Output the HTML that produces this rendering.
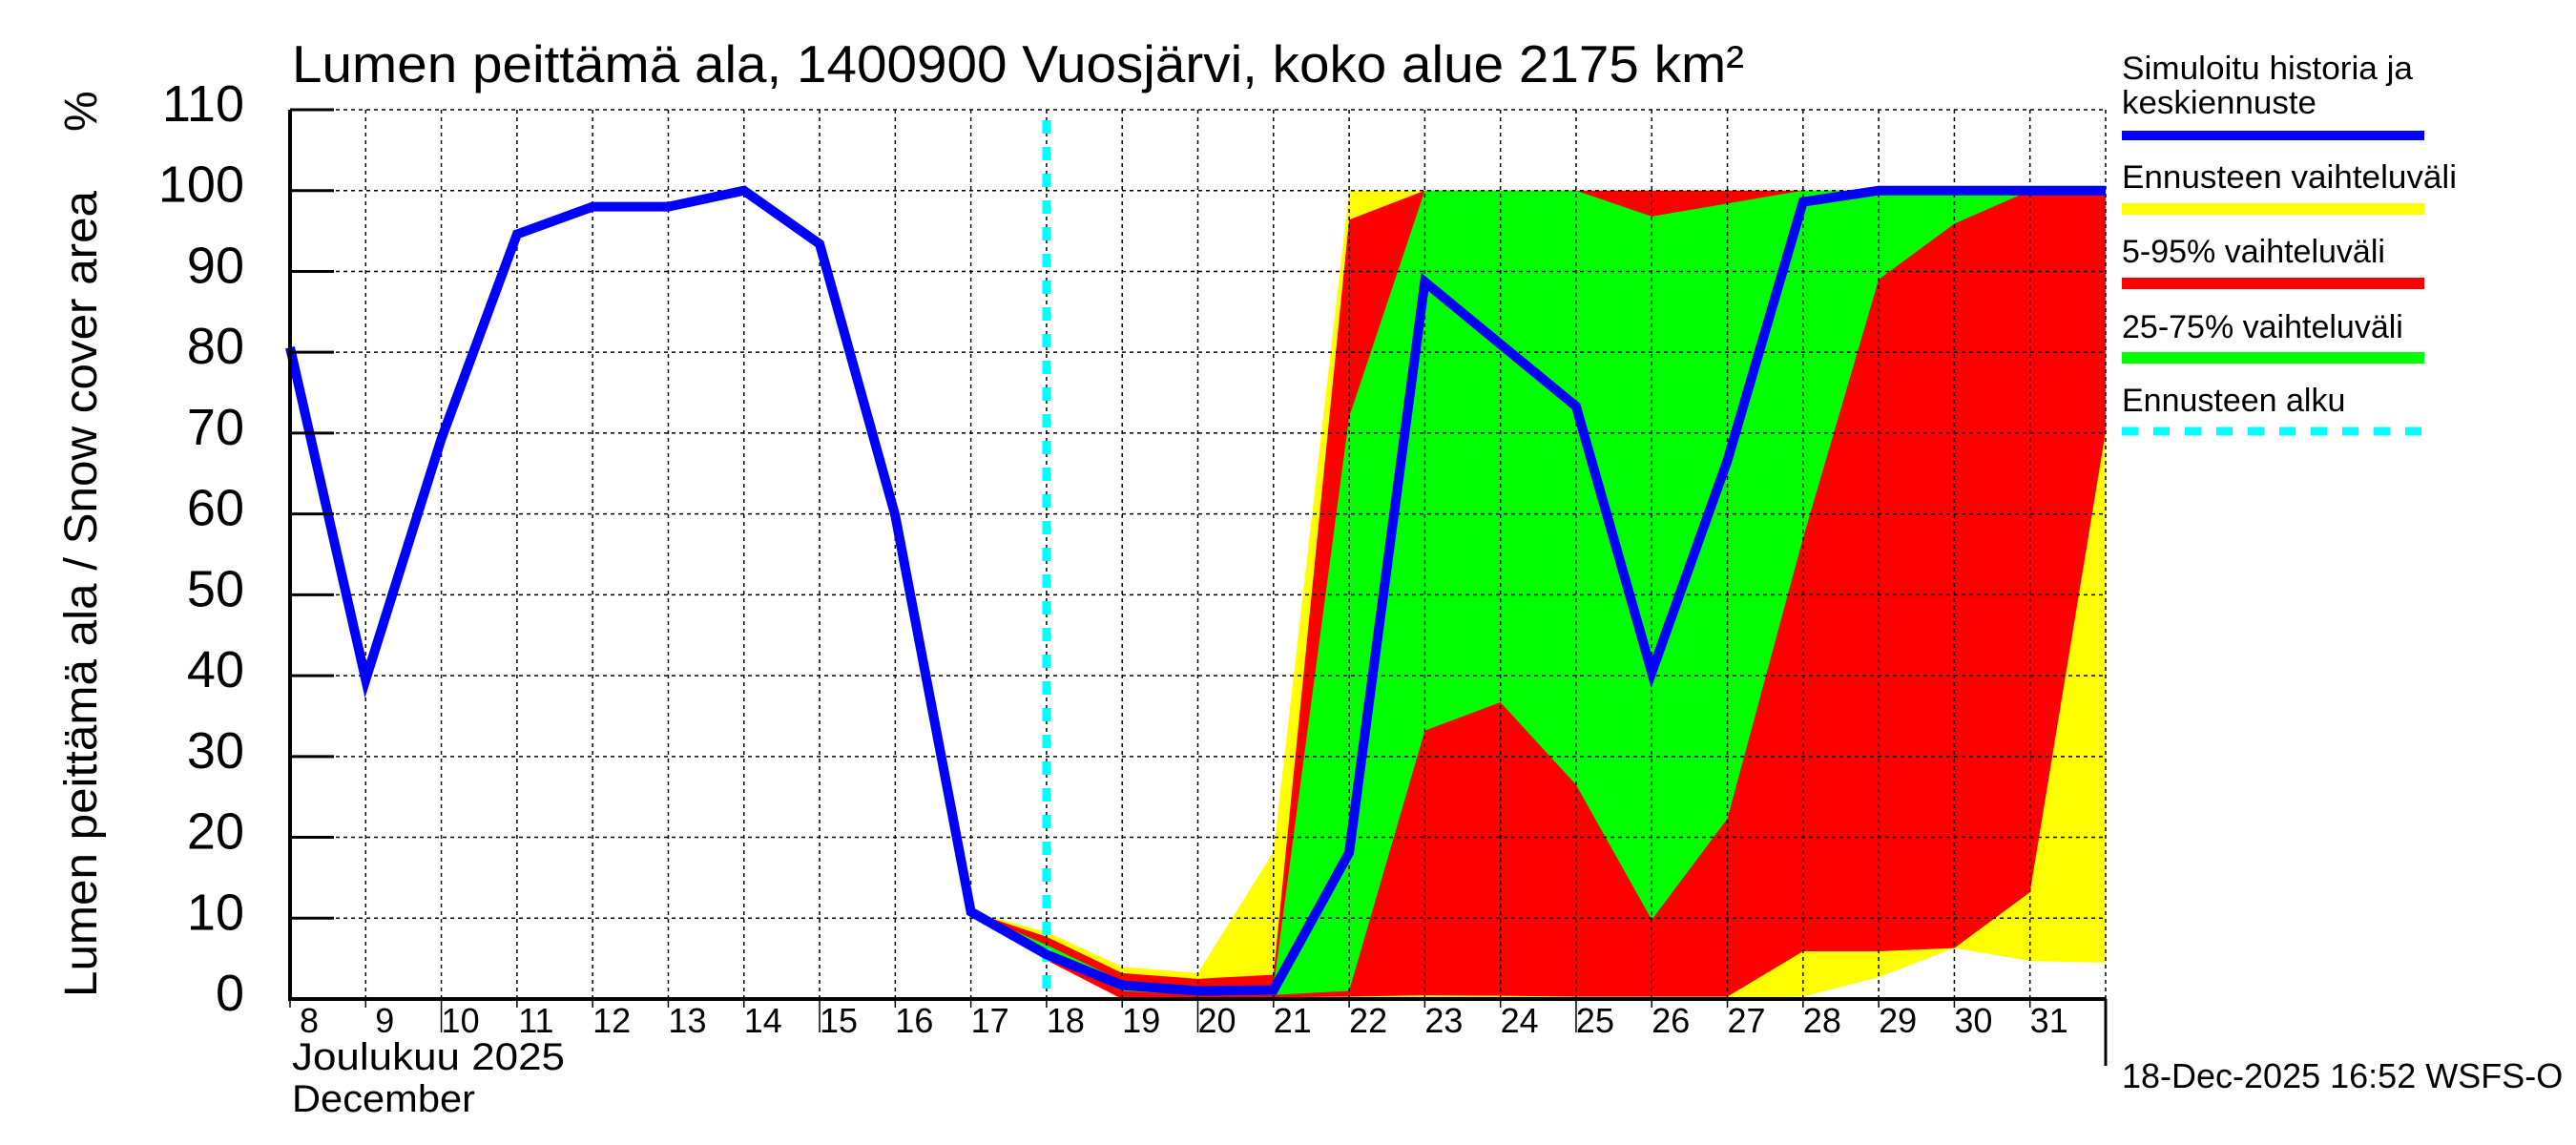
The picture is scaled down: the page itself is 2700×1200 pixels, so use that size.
<!DOCTYPE html>
<html><head><meta charset="utf-8"><style>html,body{margin:0;padding:0;background:#fff}svg{display:block}text{font-family:"Liberation Sans",Arial,sans-serif;fill:#000}</style></head>
<body>
<svg id="chart" width="2700" height="1200" viewBox="0 0 2700 1200" xmlns="http://www.w3.org/2000/svg">
<rect width="2700" height="1200" fill="#fff"/>
<text x="306" y="86" font-size="55" textLength="1522" lengthAdjust="spacingAndGlyphs">Lumen peittämä ala, 1400900 Vuosjärvi, koko alue 2175 km²</text>
<g id="bands"></g>
<g id="grid"></g>
<g id="marks"></g>
<g id="axes"></g>
<text transform="translate(101,1045) rotate(-90)" font-size="48" textLength="845" lengthAdjust="spacingAndGlyphs">Lumen peittämä ala / Snow cover area</text>
<text transform="translate(101,138) rotate(-90)" font-size="48">%</text>
<text x="306" y="1121" font-size="40" textLength="286" lengthAdjust="spacingAndGlyphs">Joulukuu  2025</text>
<text x="306" y="1165" font-size="40" textLength="192" lengthAdjust="spacingAndGlyphs">December</text>
<g>
<text x="2224" y="83" font-size="34" textLength="305" lengthAdjust="spacingAndGlyphs">Simuloitu historia ja</text>
<text x="2224" y="119" font-size="34" textLength="204" lengthAdjust="spacingAndGlyphs">keskiennuste</text>
<line x1="2224" y1="142" x2="2541" y2="142" stroke="#0000ff" stroke-width="10"/>
<text x="2224" y="197" font-size="34" textLength="351" lengthAdjust="spacingAndGlyphs">Ennusteen vaihteluväli</text>
<line x1="2224" y1="219" x2="2541" y2="219" stroke="#ffff00" stroke-width="12"/>
<text x="2224" y="275" font-size="34">5-95% vaihteluväli</text>
<line x1="2224" y1="297" x2="2541" y2="297" stroke="#ff0000" stroke-width="12"/>
<text x="2224" y="354" font-size="34">25-75% vaihteluväli</text>
<line x1="2224" y1="375" x2="2541" y2="375" stroke="#00ff00" stroke-width="12"/>
<text x="2224" y="431" font-size="34">Ennusteen alku</text>
<line x1="2224" y1="452" x2="2541" y2="452" stroke="#00ffff" stroke-width="9" stroke-dasharray="17,16"/>
</g>
<text x="2224" y="1140" font-size="36">18-Dec-2025 16:52 WSFS-O</text>
</svg>
<script>
const histDays = [8,9,10,11,12,13,14,15,16,17,18,19,20,21,22,23,24,25,26,27,28,29,30,31,32];
const median = [80.6,39.5,69.3,94.6,98,98,100,93.4,59.8,10.8,5.5,1.7,1.0,1.1,18.1,88.7,81,73.3,40.4,66.6,98.6,100,100,100,100];
const fcDays = [17,18,19,20,21,22,23,24,25,26,27,28,29,30,31,32];
const yMax = [10.8,8.3,4.0,3.2,18.2,100,100,100,100,100,100,100,100,100,100,100];
const p95 = [10.8,7.7,3.2,2.5,3.0,96.4,100,100,100,100,100,100,100,100,100,100];
const p75 = [10.8,6.7,2.2,1.6,1.5,72,100,100,100,96.8,98.4,100,100,100,100,100];
const p25 = [10.8,5.2,1.0,0.5,0.5,1.0,33.2,36.7,26.5,9.8,22.3,57,89,95.9,100,100];
const p5 = [10.8,4.8,0,0,0.2,0.3,0.45,0.4,0.3,0.3,0.3,5.9,5.9,6.3,13.2,70.2];
const yMin = [10.8,4.8,0,0,0,0,0.2,0.2,0.1,0.1,0.1,0.3,2.7,6.3,4.7,4.5];
const yTicks = [0,10,20,30,40,50,60,70,80,90,100,110];
const xTickDays = [8,9,10,11,12,13,14,15,16,17,18,19,20,21,22,23,24,25,26,27,28,29,30,31];
const forecastStart = 18;

const X0=304, X1=2207, D0=8, D1=32, Y0=1047, Y1=115, V1=110;
const xs = d => X0 + (d-D0)*(X1-X0)/(D1-D0);
const ys = v => Y0 - v*(Y0-Y1)/V1;
const NS='http://www.w3.org/2000/svg';
function mk(tag, attrs, parent){const e=document.createElementNS(NS,tag);for(const k in attrs)e.setAttribute(k,attrs[k]);parent.appendChild(e);return e;}
const bands=document.getElementById('bands'), grid=document.getElementById('grid'), marks=document.getElementById('marks'), axes=document.getElementById('axes');

function band(up, lo, color, name){
  let pts=fcDays.map((d,i)=>xs(d)+','+ys(up[i]));
  for(let i=fcDays.length-1;i>=0;i--) pts.push(xs(fcDays[i])+','+ys(lo[i]));
  const p=mk('polygon',{points:pts.join(' '),fill:color},bands);
  
  
}
band(yMax,yMin,'#ffff00','band-min-max');
band(p95,p5,'#ff0000','band-5-95');
band(p75,p25,'#00ff00','band-25-75');

yTicks.forEach(v=>{
  if(v===0) return;
  const l=mk('line',{x1:X0,y1:ys(v),x2:X1,y2:ys(v),stroke:'#000','stroke-width':1.5,'stroke-dasharray':'4,4'},grid);
  
  
});
for(let d=D0+1; d<=D1; d++){
  const l=mk('line',{x1:xs(d),y1:Y1,x2:xs(d),y2:Y0,stroke:'#000','stroke-width':1.5,'stroke-dasharray':'4,4'},grid);
  
  
}

const fs=mk('line',{x1:xs(forecastStart),y1:126,x2:xs(forecastStart),y2:Y0,stroke:'#00ffff','stroke-width':9,'stroke-dasharray':'14,14'},marks);



const ml=mk('polyline',{points:histDays.map((d,i)=>xs(d)+','+ys(median[i])).join(' '),fill:'none',stroke:'#0000ff','stroke-width':10,'stroke-linejoin':'miter'},marks);



const la=mk('line',{x1:X0,y1:Y1,x2:X0,y2:Y0+2,stroke:'#000','stroke-width':4},axes);


const ba=mk('line',{x1:X0-2,y1:Y0,x2:X1,y2:Y0,stroke:'#000','stroke-width':4},axes);


const ra=mk('line',{x1:X1,y1:Y0,x2:X1,y2:1117,stroke:'#000','stroke-width':3},axes);


yTicks.forEach(v=>{
  const t=mk('line',{x1:X0,y1:ys(v),x2:X0+46,y2:ys(v),stroke:'#000','stroke-width':3},axes);
  
  
  const tx=mk('text',{x:256,y:ys(v)+12,'font-size':54,'text-anchor':'end'},axes);
  tx.textContent=v;
  
  
});
xTickDays.forEach(d=>{
  const long = (d%5===0 && d!==30);
  const t=mk('line',{x1:xs(d),y1:Y0,x2:xs(d),y2:long?1082:1056,stroke:'#000','stroke-width':1.5},axes);
  
  
  const tx=mk('text',{x:xs(d)+20,y:1082,'font-size':36,'text-anchor':'middle'},axes);
  tx.textContent=d;
  
  
});
</script>
</body></html>
